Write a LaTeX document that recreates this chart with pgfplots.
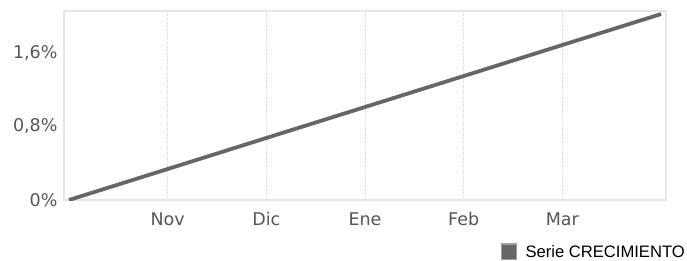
\documentclass[border=0pt]{standalone}
\usepackage{fontspec}
\setmainfont{DejaVu Sans}
\newfontfamily\arialfont{Liberation Sans}
\usepackage{pgfplots}
\pgfplotsset{compat=1.18}
\definecolor{linegray}{HTML}{666666}
\definecolor{labgray}{HTML}{555555}
\definecolor{framegray}{HTML}{E6E6E6}
\definecolor{gridgray}{HTML}{CFCFCF}
\begin{document}
\begin{tikzpicture}
\begin{axis}[
  scale only axis,
  width=602bp, height=189bp,
  xmin=-0.05, xmax=6.05,
  ymin=0, ymax=2.057,
  xtick={1,2,3,4,5},
  xticklabels={Nov,Dic,Ene,Feb,Mar},
  ytick={0,0.8,1.6},
  yticklabels={0\%,{0,8\%},{1,6\%}},
  tick style={draw=none},
  axis line style={draw=framegray, line width=1.2bp},
  xmajorgrids,
  grid style={draw=gridgray, dotted, line width=0.8bp},
  ticklabel style={font=\fontsize{17.5bp}{20bp}\selectfont, text=labgray},
  xticklabel style={yshift=-9bp},
  yticklabel style={xshift=-3bp},
  legend style={at={(1,0)}, anchor=north east, xshift=21bp, yshift=-43bp,
    draw=none, fill=none, inner sep=0pt,
    font=\arialfont\fontsize{16.6bp}{19bp}\selectfont},
  legend cell align=left,
  legend image code/.code={
    \draw[fill=linegray, draw=gray!75, line width=1.2bp] (0bp,-7.5bp) rectangle (15bp,8bp);
    \path (20bp,0bp);
  },
]
\addplot[linegray, line width=3.8bp] coordinates {
  (0,0) (1,0.337) (2,0.675) (3,1.012) (4,1.349) (5,1.687) (6,2.024)
};
\addlegendentry{Serie CRECIMIENTO}
\end{axis}
\useasboundingbox (current axis.south west) ++(-64bp,-59bp) rectangle ++(687bp,259bp);
\end{tikzpicture}
\end{document}
